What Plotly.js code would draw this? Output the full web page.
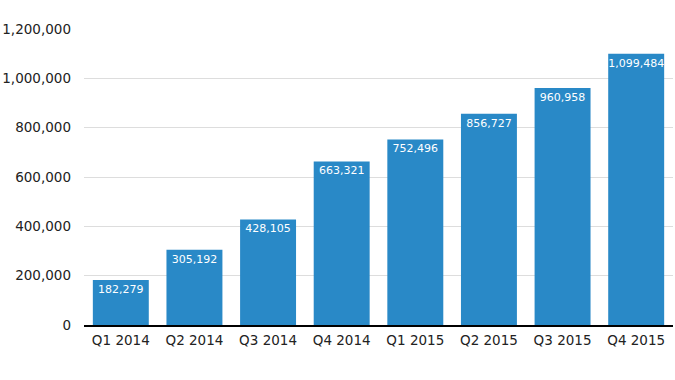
<!DOCTYPE html>
<html>
<head>
<meta charset="utf-8">
<script src="https://cdn.plot.ly/plotly-3.0.1.min.js"></script>
<style>html,body{margin:0;padding:0;background:#fff;}#chart{width:675px;height:380px;}</style>
</head>
<body>
<div id="chart"></div>
<script>
const categories = ["Q1 2014","Q2 2014","Q3 2014","Q4 2014","Q1 2015","Q2 2015","Q3 2015","Q4 2015"];
const values = [182279, 305192, 428105, 663321, 752496, 856727, 960958, 1099484];
const yTicks = [0, 200000, 400000, 600000, 800000, 1000000, 1200000];

const fmt = v => v.toLocaleString('en-US');

Plotly.newPlot('chart', [{
  type: 'bar',
  x: categories,
  y: values,
  marker: {color: '#2989c7'},
  text: values.map(fmt),
  textposition: 'inside',
  insidetextanchor: 'end',
  textangle: 0,
  constraintext: 'none',
  cliponaxis: false,
  textfont: {family: 'DejaVu Sans, Verdana, sans-serif', size: 11, color: '#ffffff'},
  hoverinfo: 'none'
}], {
  width: 675, height: 380,
  margin: {l: 84, r: 2, t: 29, b: 55},
  paper_bgcolor: '#ffffff', plot_bgcolor: '#ffffff',
  bargap: 0.24,
  font: {family: 'DejaVu Sans, Verdana, sans-serif', size: 13.5, color: '#222222'},
  showlegend: false,
  xaxis: {
    type: 'category',
    showgrid: false,
    showline: true, linecolor: '#000000', linewidth: 1.5,
    ticks: '',
    ticklabelstandoff: 2,
    tickfont: {size: 13.5, color: '#222222'}
  },
  yaxis: {
    range: [0, 1200000],
    tickvals: yTicks,
    ticktext: yTicks.map(fmt),
    showgrid: true, gridcolor: '#dddddd', gridwidth: 1,
    zeroline: false,
    showline: false,
    ticks: '',
    ticklabelstandoff: 12,
    tickfont: {size: 13.5, color: '#222222'}
  }
}, {staticPlot: true});
</script>
</body>
</html>
